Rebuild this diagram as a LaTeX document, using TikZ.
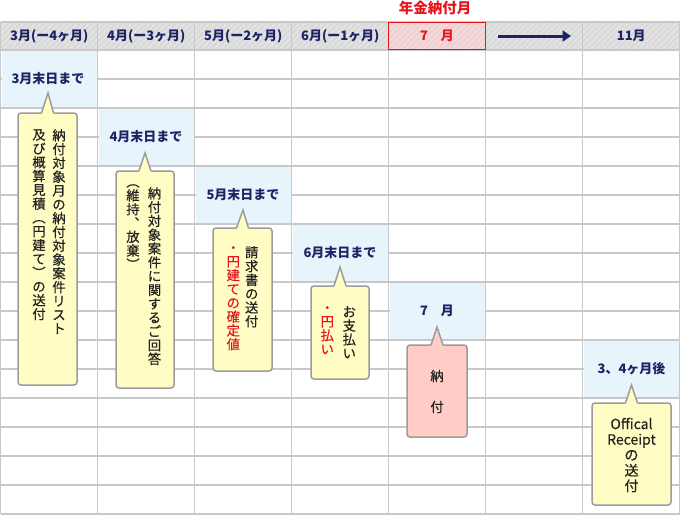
\documentclass[tikz,border=0pt]{standalone}
\usepackage{fontspec}
\setmainfont{Noto Sans CJK JP}
\newfontfamily\jpm[FakeBold=0.4]{Noto Sans CJK JP}
\usetikzlibrary{arrows.meta,patterns.meta}
\definecolor{navy}{HTML}{1C2263}
\definecolor{gridc}{HTML}{C8C8C8}
\definecolor{hdrgray}{HTML}{DADADA}
\definecolor{hdrlight}{HTML}{E8E8E8}
\definecolor{hdrpink}{HTML}{F0D0D2}
\definecolor{hdrpinkl}{HTML}{F6E0E2}
\definecolor{redc}{HTML}{E8141C}
\definecolor{cellblue}{HTML}{E8F4FC}
\definecolor{yel}{HTML}{FFFCC4}
\definecolor{pinkbox}{HTML}{FFCCC6}
\definecolor{bord}{HTML}{9C9C9C}
\definecolor{txt}{HTML}{222222}
\tikzset{
  gridline/.style={draw=gridc, line width=1.2pt},
  hdr/.style={text=navy, font=\fontsize{13}{14}\selectfont\bfseries, inner sep=0},
  lbl/.style={text=navy, font=\fontsize{13}{14}\selectfont\bfseries, inner sep=0},
  callbox/.style={draw=bord, line width=1.5pt, rounded corners=3pt, inner sep=0, outer sep=0},
  ptr/.style={draw=bord, line width=1.5pt, line join=miter},
  vt/.style={text=txt, font=\jpm\fontsize{13.3}{13.8}\selectfont, align=center, inner sep=0, anchor=north},
  vtred/.style={vt, text=redc},
  plain/.style={text=txt, font=\jpm\fontsize{13.3}{14}\selectfont, inner sep=0},
}
\begin{document}
\begin{tikzpicture}[x=1pt,y=-1pt]
\useasboundingbox (0,0) rectangle (680,515);
\fill[white] (0,0) rectangle (680,515);
% header band
\fill[hdrgray] (0.8,22) rectangle (679.8,50);
\fill[pattern={Lines[angle=45,distance=4pt,line width=1.3pt]}, pattern color=hdrlight] (0.8,22) rectangle (679.8,50);
\fill[hdrpink] (388.7,22) rectangle (485.7,50);
\fill[pattern={Lines[angle=45,distance=4pt,line width=1.3pt]}, pattern color=hdrpinkl] (388.7,22) rectangle (485.7,50);
% grid
\foreach \k in {0,...,7} \draw[gridline] ({0.8+97*\k},22) -- ({0.8+97*\k},514);
\draw[gridline] (0.8,22) -- (679.8,22);
\foreach \r in {0,...,16} \draw[gridline] (0.8,{50+29*\r}) -- (679.8,{50+29*\r});
% red frame of payment month
\draw[redc, line width=1.3pt] (388.7,22.5) rectangle (485.7,49.5);
% blue cells
\fill[cellblue] (1.5,50.7) rectangle (97.1,107.3);
\fill[cellblue] (98.5,108.7) rectangle (194.1,165.3);
\fill[cellblue] (195.5,166.7) rectangle (291.1,223.3);
\fill[cellblue] (292.5,224.7) rectangle (388.1,281.3);
\fill[cellblue] (389.5,282.7) rectangle (485.1,339.3);
\fill[cellblue] (583.5,340.7) rectangle (679.1,397.3);
% header texts
\node[text=redc, font=\fontsize{14.5}{16}\selectfont\bfseries, inner sep=0] (title) at (435,7.5) {年金納付月};
\node[hdr] (h1) at (49.3,36) {3月(ー4ヶ月)};
\node[hdr] (h2) at (146.3,36) {4月(ー3ヶ月)};
\node[hdr] (h3) at (243.3,36) {5月(ー2ヶ月)};
\node[hdr] (h4) at (340.3,36) {6月(ー1ヶ月)};
\node[hdr, text=redc] (h5) at (437,36) {7　月};
\node[hdr] (h7) at (631.3,36) {11月};
\coordinate (a1) at (498,36);
\coordinate (a2) at (571,36);
\draw[navy, line width=3pt, -{Triangle[length=8.5pt,width=11pt]}] (a1) -- (a2);
% blue labels
\node[lbl] (l1) at (48,79) {3月末日まで};
\node[lbl] (l2) at (146,137) {4月末日まで};
\node[lbl] (l3) at (243,195) {5月末日まで};
\node[lbl] (l4) at (340,253) {6月末日まで};
\node[lbl] (l5) at (437,311) {7　月};
\node[lbl] (l7) at (631.5,369) {3、4ヶ月後};
% callout 1
\node[callbox, fill=yel, minimum width=59pt, minimum height=272pt] (c1) at (47.5,249) {};
\coordinate (t1) at (48,93);
\fill[yel] ([xshift=-6pt,yshift=-2pt]c1.north) -- ([xshift=-6pt]c1.north) -- (t1) -- ([xshift=6pt]c1.north) -- ([xshift=6pt,yshift=-2pt]c1.north) -- cycle;
\draw[ptr] ([xshift=-6pt]c1.north) -- (t1) -- ([xshift=6pt]c1.north);
\node[vt] (c1r) at (59,129) {納\\付\\対\\象\\月\\の\\納\\付\\対\\象\\案\\件\\リ\\ス\\ト};
\node[vt] (c1l) at (39,129) {及\\び\\概\\算\\見\\積\\︵\\円\\建\\て\\︶\\の\\送\\付};
% callout 2
\node[callbox, fill=yel, minimum width=58pt, minimum height=217pt] (c2) at (145,279.5) {};
\coordinate (t2) at (145,153);
\fill[yel] ([xshift=-6pt,yshift=-2pt]c2.north) -- ([xshift=-6pt]c2.north) -- (t2) -- ([xshift=6pt]c2.north) -- ([xshift=6pt,yshift=-2pt]c2.north) -- cycle;
\draw[ptr] ([xshift=-6pt]c2.north) -- (t2) -- ([xshift=6pt]c2.north);
\node[vt] (c2r) at (154.5,187) {納\\付\\対\\象\\案\\件\\に\\関\\す\\る\\ご\\回\\答};
\node[vt] (c2l) at (133,184) {︵\\維\\持\\︑\\放\\棄\\︶};
% callout 3
\node[callbox, fill=yel, minimum width=59pt, minimum height=143pt] (c3) at (242.5,299.5) {};
\coordinate (t3) at (243,210);
\fill[yel] ([xshift=-6pt,yshift=-2pt]c3.north) -- ([xshift=-6pt]c3.north) -- (t3) -- ([xshift=6pt]c3.north) -- ([xshift=6pt,yshift=-2pt]c3.north) -- cycle;
\draw[ptr] ([xshift=-6pt]c3.north) -- (t3) -- ([xshift=6pt]c3.north);
\node[vt] (c3r) at (251.7,246) {請\\求\\書\\の\\送\\付};
\node[vtred] (c3l) at (233.3,246) {・\\円\\建\\て\\の\\確\\定\\値};
% callout 4
\node[callbox, fill=yel, minimum width=58pt, minimum height=93pt] (c4) at (340,332.5) {};
\coordinate (t4) at (340,267);
\fill[yel] ([xshift=-6pt,yshift=-2pt]c4.north) -- ([xshift=-6pt]c4.north) -- (t4) -- ([xshift=6pt]c4.north) -- ([xshift=6pt,yshift=-2pt]c4.north) -- cycle;
\draw[ptr] ([xshift=-6pt]c4.north) -- (t4) -- ([xshift=6pt]c4.north);
\node[vt] (c4r) at (349.3,306) {お\\支\\払\\い};
\node[vtred] (c4l) at (327.3,306) {・\\円\\払\\い};
% callout 5
\node[callbox, fill=pinkbox, minimum width=60pt, minimum height=92pt] (c5) at (437,391) {};
\coordinate (t5) at (437,327);
\fill[pinkbox] ([xshift=-6pt,yshift=-2pt]c5.north) -- ([xshift=-6pt]c5.north) -- (t5) -- ([xshift=6pt]c5.north) -- ([xshift=6pt,yshift=-2pt]c5.north) -- cycle;
\draw[ptr] ([xshift=-6pt]c5.north) -- (t5) -- ([xshift=6pt]c5.north);
\node[plain] (c5a) at (437,376) {納};
\node[plain] (c5b) at (437,407) {付};
% callout 7
\node[callbox, fill=yel, minimum width=79pt, minimum height=102pt] (c7) at (631.5,454) {};
\coordinate (t7) at (631.5,385);
\fill[yel] ([xshift=-6pt,yshift=-2pt]c7.north) -- ([xshift=-6pt]c7.north) -- (t7) -- ([xshift=6pt]c7.north) -- ([xshift=6pt,yshift=-2pt]c7.north) -- cycle;
\draw[ptr] ([xshift=-6pt]c7.north) -- (t7) -- ([xshift=6pt]c7.north);
\node[text=txt, font=\jpm\fontsize{14}{15.5}\selectfont, align=center, inner sep=0] (c7t) at (631.5,455) {Offical\\Receipt\\の\\送\\付};
\end{tikzpicture}
\end{document}
